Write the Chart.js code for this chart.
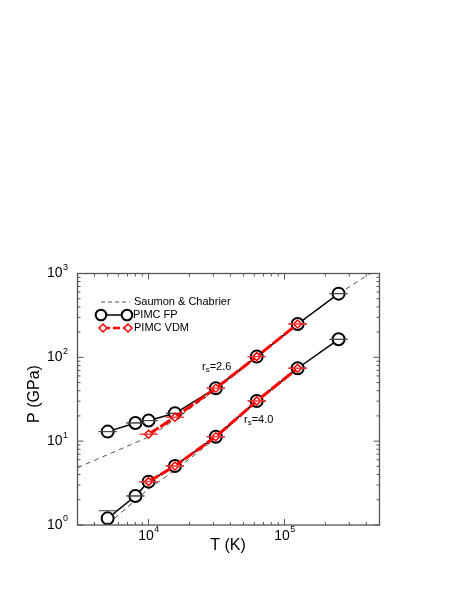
<!DOCTYPE html>
<html>
<head>
<meta charset="utf-8">
<script src="https://cdn.jsdelivr.net/npm/chart.js@4"></script>
<style>
  html, body { margin: 0; padding: 0; background: #fff; }
  #wrap { width: 458px; height: 592px; }
</style>
</head>
<body>
<div id="wrap"><canvas id="myChart" width="458" height="592"></canvas></div>
<script>
// temperatures (K) and pressures (GPa)
var temps = [5000, 8000, 10000, 15625, 31250, 62500, 125000, 250000];
var fp26 = [13.0, 16.5, 17.6, 21.5, 42.8, 102, 250, 575];
var fp40 = [1.20, 2.22, 3.29, 5.06, 11.3, 30.2, 74.1, 164];
var fpErr40 = [0.28, 0, 0, 0, 0, 0, 0, 0];

var vdmTemps = [10000, 15625, 31250, 62500, 125000];
var vdm26 = [12.1, 19.3, 42.8, 102, 250];
var vdm40 = [3.29, 5.06, 11.3, 30.2, 74.1];

// Saumon & Chabrier curves
var scTemps26 = [3000, 10000, 15625, 31250, 62500, 125000, 250000, 428000];
var sc26 = [4.83, 11.2, 18.0, 41.0, 99, 245, 575, 1000];
var scTemps40 = [5000, 10000, 15625, 31250, 62500, 125000];
var sc40 = [1.02, 2.69, 4.5, 10.8, 29.5, 73];

var xTicks = [3000, 500000];
var yTicks = [1, 1000];

function pts(xs, ys) {
  return xs.map(function (x, i) { return { x: x, y: ys[i] }; });
}
function caps(xs, ys, errs) {
  var out = [];
  xs.forEach(function (x, i) {
    var e = errs ? errs[i] : 0;
    out.push({ x: x, y: ys[i] + e });
    if (ys[i] - e > 0) out.push({ x: x, y: ys[i] - e });
  });
  return out;
}

var FONT = '"Liberation Sans", Arial, Helvetica, sans-serif';

// frame, inward ticks, tick labels, titles, notes and legend
var decor = {
  id: 'decor',
  afterDraw: function (chart) {
    var ctx = chart.ctx, a = chart.chartArea;
    var xs = chart.scales.x, ys = chart.scales.y;
    ctx.save();
    ctx.strokeStyle = '#555';
    ctx.lineWidth = 1.3;
    ctx.strokeRect(a.left, a.top, a.right - a.left, a.bottom - a.top);

    ctx.lineWidth = 1;
    for (var d = 1000; d <= 1000000; d *= 10) {
      for (var m = 1; m <= 9; m++) {
        var v = d * m;
        if (v < xTicks[0] || v > xTicks[1]) continue;
        var px = xs.getPixelForValue(v);
        var len = m === 1 ? 6 : 3;
        ctx.beginPath();
        ctx.moveTo(px, a.bottom); ctx.lineTo(px, a.bottom - len);
        ctx.moveTo(px, a.top); ctx.lineTo(px, a.top + len);
        ctx.stroke();
      }
    }
    for (var d2 = 1; d2 <= 1000; d2 *= 10) {
      for (var m2 = 1; m2 <= 9; m2++) {
        var v2 = d2 * m2;
        if (v2 < yTicks[0] || v2 > yTicks[1]) continue;
        var py = ys.getPixelForValue(v2);
        var len2 = m2 === 1 ? 6 : 3;
        ctx.beginPath();
        ctx.moveTo(a.left, py); ctx.lineTo(a.left + len2, py);
        ctx.moveTo(a.right, py); ctx.lineTo(a.right - len2, py);
        ctx.stroke();
      }
    }

    ctx.fillStyle = '#000';
    ctx.textBaseline = 'middle';
    // y tick labels
    [0, 1, 2, 3].forEach(function (e) {
      var py = ys.getPixelForValue(Math.pow(10, e));
      ctx.font = '9px ' + FONT;
      var sw = ctx.measureText(String(e)).width;
      ctx.textAlign = 'left';
      ctx.fillText(String(e), 68 - sw, py - 6);
      ctx.font = '14px ' + FONT;
      ctx.textAlign = 'right';
      ctx.fillText('10', 68 - sw - 0.5, py);
    });
    // x tick labels
    [4, 5].forEach(function (e) {
      var px = xs.getPixelForValue(Math.pow(10, e));
      ctx.font = '14px ' + FONT;
      var w = ctx.measureText('10').width;
      ctx.font = '9px ' + FONT;
      var sw = ctx.measureText(String(e)).width;
      var left = px - (w + sw) / 2;
      ctx.textAlign = 'left';
      ctx.fillText(String(e), left + w + 0.5, 530);
      ctx.font = '14px ' + FONT;
      ctx.fillText('10', left, 536);
    });

    // axis titles
    ctx.font = '16px ' + FONT;
    ctx.textAlign = 'center';
    ctx.fillText('T (K)', 228, 546);
    ctx.save();
    ctx.translate(35, 394);
    ctx.rotate(-Math.PI / 2);
    ctx.fillText('P (GPa)', 0, 0);
    ctx.restore();

    // r_s notes
    function note(x, y, val) {
      ctx.textAlign = 'left';
      ctx.font = '11px ' + FONT;
      ctx.fillText('r', x, y);
      var rw = ctx.measureText('r').width;
      ctx.font = '8px ' + FONT;
      ctx.fillText('s', x + rw, y + 3);
      var sw = ctx.measureText('s').width;
      ctx.font = '11px ' + FONT;
      ctx.fillText('=' + val, x + rw + sw, y);
    }
    note(202, 367, '2.6');
    note(244, 420, '4.0');

    // legend
    var ds = chart.data.datasets;
    ctx.font = '11px ' + FONT;
    ctx.textAlign = 'left';
    // row 1
    ctx.strokeStyle = '#555';
    ctx.lineWidth = 1;
    ctx.setLineDash([4, 3]);
    ctx.beginPath(); ctx.moveTo(101, 302); ctx.lineTo(130, 302); ctx.stroke();
    ctx.setLineDash([]);
    ctx.fillText(ds[0].label, 134, 302);
    // row 2
    ctx.strokeStyle = '#000';
    ctx.lineWidth = 1.5;
    ctx.beginPath(); ctx.moveTo(101, 315); ctx.lineTo(127, 315); ctx.stroke();
    ctx.lineWidth = 2;
    [101, 127].forEach(function (cx) {
      ctx.beginPath(); ctx.arc(cx, 315, 5.3, 0, Math.PI * 2);
      ctx.fillStyle = '#fff'; ctx.fill(); ctx.stroke();
    });
    ctx.fillStyle = '#000';
    ctx.fillText(ds[2].label, 133, 315);
    // row 3
    ctx.strokeStyle = '#f00';
    ctx.lineWidth = 2.5;
    ctx.setLineDash([7, 3]);
    ctx.beginPath(); ctx.moveTo(103, 328); ctx.lineTo(128, 328); ctx.stroke();
    ctx.setLineDash([]);
    ctx.lineWidth = 1.5;
    [103, 128].forEach(function (cx) {
      ctx.beginPath();
      ctx.moveTo(cx, 324); ctx.lineTo(cx + 4, 328); ctx.lineTo(cx, 332); ctx.lineTo(cx - 4, 328);
      ctx.closePath();
      ctx.fillStyle = '#fff'; ctx.fill(); ctx.stroke();
    });
    ctx.fillStyle = '#000';
    ctx.fillText(ds[4].label, 134, 328);
    ctx.restore();
  }
};

var fpStyle = {
  showLine: true, borderColor: '#000', borderWidth: 1.5,
  pointRadius: 6, pointBorderWidth: 2, pointBackgroundColor: '#fff', pointBorderColor: '#000'
};
var vdmStyle = {
  showLine: true, borderColor: '#f00', borderWidth: 3, borderDash: [12, 2],
  pointStyle: 'rectRot', pointRadius: 4, pointBorderWidth: 1.5,
  pointBackgroundColor: '#fff', pointBorderColor: '#f00'
};
var scStyle = {
  showLine: true, borderColor: '#555', borderWidth: 1, borderDash: [5, 4],
  pointRadius: 0, fill: false
};
var capStyle = function (col) {
  return { showLine: false, pointStyle: 'line', pointRadius: 9, pointBorderWidth: 1, borderColor: col, pointBorderColor: col };
};

new Chart('myChart', {
  type: 'scatter',
  data: {
    datasets: [
      Object.assign({ label: 'Saumon & Chabrier', data: pts(scTemps26, sc26), order: 9 }, scStyle),
      Object.assign({ label: 'SC 4.0', data: pts(scTemps40, sc40), order: 9 }, scStyle),
      Object.assign({ label: 'PIMC FP', data: pts(temps, fp26), order: 5 }, fpStyle),
      Object.assign({ label: 'PIMC FP 4.0', data: pts(temps, fp40), order: 5 }, fpStyle),
      Object.assign({ label: 'PIMC VDM', data: pts(vdmTemps, vdm26), order: 1 }, vdmStyle),
      Object.assign({ label: 'PIMC VDM 4.0', data: pts(vdmTemps, vdm40), order: 1 }, vdmStyle),
      Object.assign({ label: 'err fp26', data: caps(temps, fp26), order: 4 }, capStyle('#444')),
      Object.assign({ label: 'err fp40', data: caps(temps, fp40, fpErr40), order: 4 }, capStyle('#444')),
      Object.assign({ label: 'err vdm26', data: caps(vdmTemps, vdm26), order: 0 }, capStyle('#f33')),
      Object.assign({ label: 'err vdm40', data: caps(vdmTemps, vdm40), order: 0 }, capStyle('#f33'))
    ]
  },
  options: {
    responsive: false,
    animation: false,
    layout: { padding: { left: 77.5, right: 78.5, top: 273.5, bottom: 67 } },
    plugins: { legend: { display: false }, tooltip: { enabled: false } },
    elements: { line: { tension: 0 } },
    scales: {
      x: { type: 'logarithmic', min: xTicks[0], max: xTicks[1], display: false },
      y: { type: 'logarithmic', min: yTicks[0], max: yTicks[1], display: false }
    }
  },
  plugins: [decor]
});
</script>
</body>
</html>
